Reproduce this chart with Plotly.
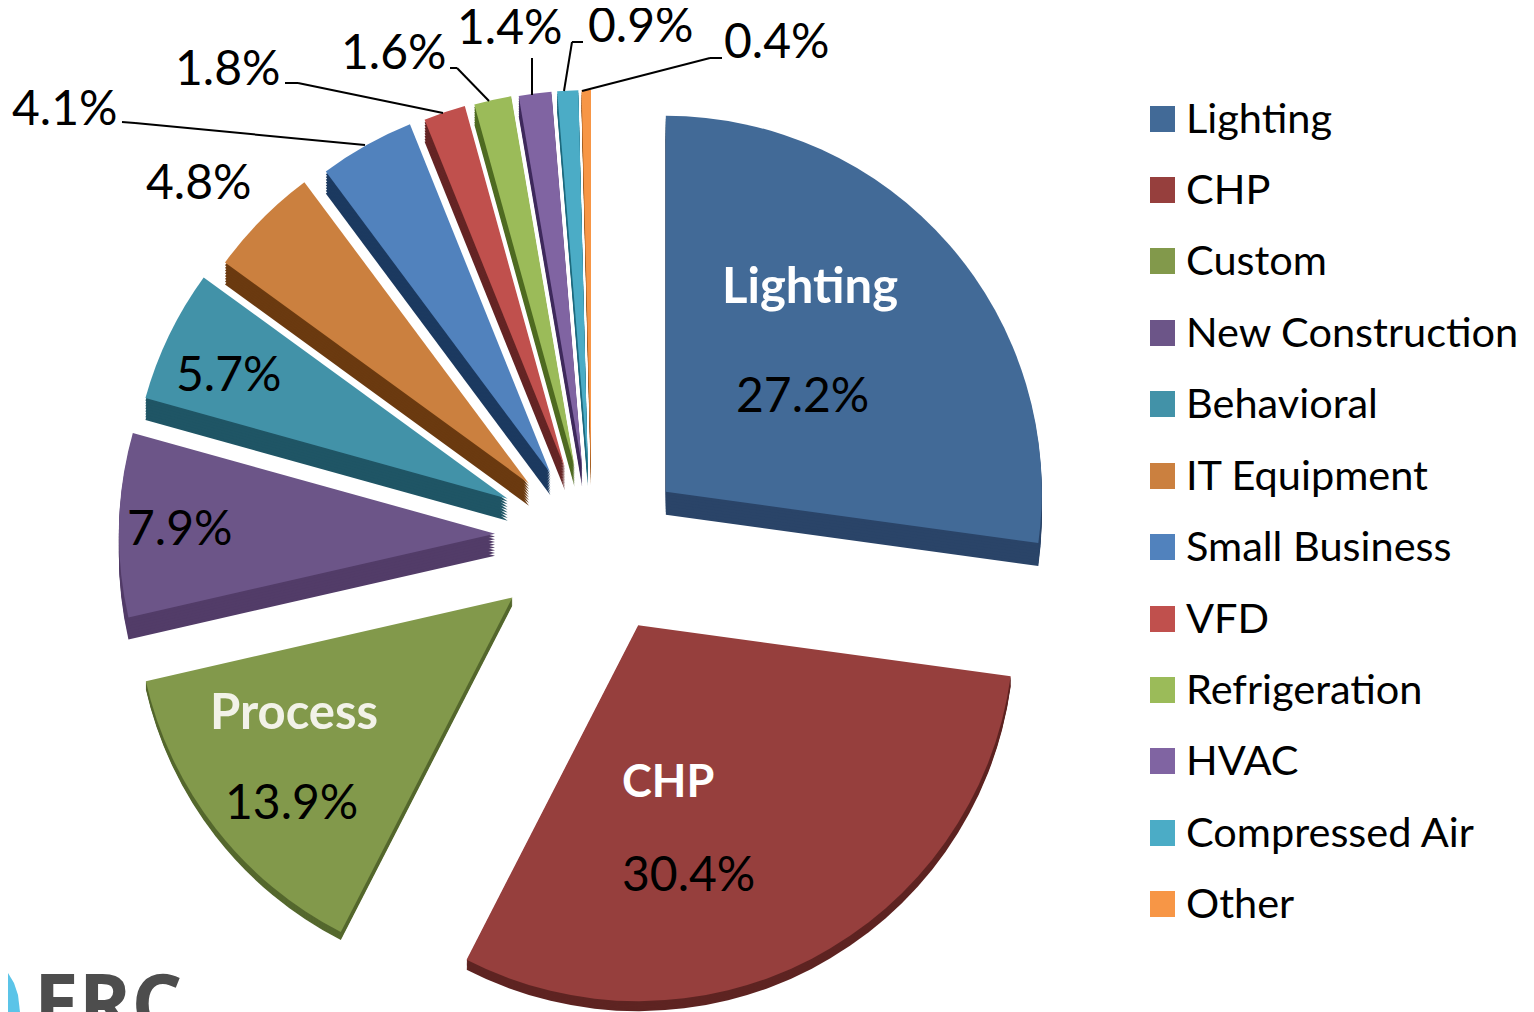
import plotly.graph_objects as go

W, H = 1534, 1100
PAGE = 8  # the browser's default body margin


def X(px):
    return (px - PAGE) / W


def Y(py):
    return 1 - (py - PAGE) / H


categories = ["Lighting", "CHP", "Custom", "New Construction", "Behavioral", "IT Equipment",
              "Small Business", "VFD", "Refrigeration", "HVAC", "Compressed Air", "Other"]
values = [27.2, 30.4, 13.9, 7.9, 5.7, 4.8, 4.1, 1.8, 1.6, 1.4, 0.9, 0.4]
pct_labels = ["27.2%", "30.4%", "13.9%", "7.9%", "5.7%", "4.8%", "4.1%", "1.8%", "1.6%", "1.4%", "0.9%", "0.4%"]
top_colors = ["#426A97", "#963F3D", "#82994B", "#6C5588", "#4292A8", "#CB803F",
              "#5182BD", "#C0504D", "#9BBB59", "#8064A2", "#4BACC6", "#F79646"]
wall_colors = ["#2A4468", "#5E2422", "#55682E", "#523C68", "#1F5565", "#6B3A10",
               "#1C3A60", "#652525", "#4F6B22", "#3F2A5C", "#1E6A7E", "#A05A1E"]
explode_px = [90, 87, 97, 97, 97, 90, 87, 84, 80, 79, 79, 79]
nudge_x = [6, 6, -3, 0, 3, 1, 1, 0, 0, 0, 0, 0]
nudge_y = [6, 3, -7, -9, -4, 2, 4, 3, 0, 0, 0, 0]
wall_px = [23, 10, 8, 22, 22, 22, 22, 22, 20, 20, 20, 20]
legend_y = [119, 190, 261, 333, 404, 476, 547, 619, 690, 761, 833, 904]

radius = 376
cx, cy = 592, 545
half = radius + max(explode_px)
pulls = [p / radius for p in explode_px]
layers = 8
depth = max(wall_px)
fig = go.Figure()


def add_slice(k, dx, dy, color):
    colors = ["rgba(0,0,0,0)"] * len(values)
    colors[k] = color
    fig.add_trace(go.Pie(
        labels=categories, values=values, pull=pulls, sort=False, direction="clockwise",
        rotation=0, textinfo="none", hoverinfo="skip", showlegend=False,
        marker=dict(colors=colors, line=dict(width=0)),
        domain=dict(x=[X(cx + dx - half), X(cx + dx + half)], y=[Y(cy + dy + half), Y(cy + dy - half)]),
    ))


for k in range(len(values)):
    for i in range(layers, 0, -1):
        d = wall_px[k] * i / layers
        add_slice(k, nudge_x[k], nudge_y[k] + d, wall_colors[k])
    add_slice(k, nudge_x[k], nudge_y[k], top_colors[k])

ann = []


def text(x, y, s, size=48, color="black", bold=False, anchor="center", family="Lato"):
    ann.append(dict(x=X(x), y=Y(y), xref="paper", yref="paper", text=f"<b>{s}</b>" if bold else s,
                    showarrow=False, xanchor=anchor, yanchor="middle",
                    font=dict(size=size, color=color, family=family)))


text(810, 284, "Lighting", 49, "white", True)
text(802, 394, pct_labels[0])
text(668, 780, "CHP", 45, "white", True)
text(688, 872, pct_labels[1])
text(294, 710, "Process", 49, "#F2F2E8", True)
text(291, 800, pct_labels[2])
text(179, 526, pct_labels[3])
text(228, 372, pct_labels[4])
text(198, 180, pct_labels[5])
text(65, 106, pct_labels[6])
text(227, 66, pct_labels[7])
text(393, 50, pct_labels[8])
text(509, 26, pct_labels[9])
text(640, 24, pct_labels[10])
text(776, 40, pct_labels[11])

shapes = []
for name, color, y in zip(categories, top_colors, legend_y):
    shapes.append(dict(type="rect", xref="paper", yref="paper", x0=X(1150), x1=X(1175),
                       y0=Y(y + 13), y1=Y(y - 13), fillcolor=color, line=dict(width=0)))
    text(1184, y - 2, name, 41.5, "black", False, "left")

for pts in [[(122, 122), (135, 123), (365, 145)],
            [(285, 83), (298, 83), (443, 113)],
            [(450, 68), (457, 68), (489, 101)],
            [(532, 58), (532, 95)],
            [(583, 42), (572, 42), (564, 91)],
            [(722, 58), (710, 58), (582, 91)]]:
    for (a, b), (c, d) in zip(pts, pts[1:]):
        shapes.append(dict(type="line", xref="paper", yref="paper", x0=X(a), y0=Y(b),
                           x1=X(c), y1=Y(d), line=dict(color="black", width=2)))

# logo fragment, cut by the bottom of the page
text(108, 1000, "ERC", 80, "#4D4D4D", True, family="Open Sans")
flame = [(8, 973), (14, 983), (18, 995), (20, 1012), (8, 1012)]
shapes.append(dict(type="path", xref="paper", yref="paper", line=dict(width=0), fillcolor="#5BC4E8",
                   path="M" + " L".join(f"{X(a)},{Y(b)}" for a, b in flame) + " Z"))

fig.update_layout(width=W, height=H, margin=dict(l=0, r=0, t=0, b=0), paper_bgcolor="white",
                  annotations=ann, shapes=shapes, showlegend=False)
fig.write_html("out.html")
